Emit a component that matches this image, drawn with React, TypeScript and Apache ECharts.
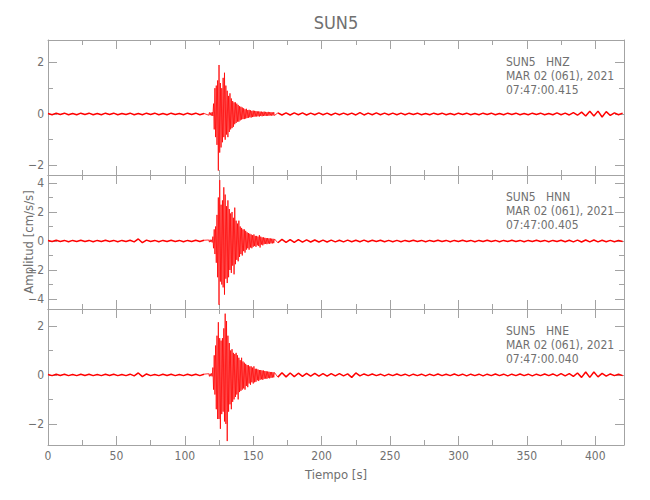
import React, { useEffect, useRef } from "react";
import * as echarts from "echarts";

// ---------- data ----------
const stationName = "SUN5";
const channels = ["HNZ", "HNN", "HNE"];
const dateLine = "MAR 02 (061), 2021";
const startTimes = ["07:47:00.415", "07:47:00.405", "07:47:00.040"];

const X_MIN = 0;
const X_MAX = 421;
const xMajorTicks = [0, 50, 100, 150, 200, 250, 300, 350, 400];
const xMinorTicks = [25, 75, 125, 175, 225, 275, 325, 375];

const yRanges = [
  [-2.37, 2.87],
  [-4.69, 4.55],
  [-2.86, 2.69],
];
const yMajorTicks = [
  [-2, 0, 2],
  [-4, -2, 0, 2, 4],
  [-2, 0, 2],
];
const yMinorTicks = [
  [-1, 1],
  [-3, -1, 1, 3],
  [-1, 1],
];

// sampling of the hand-read traces (seconds)
const PRE_START = 0;
const PRE_STEP = 3;
const EVENT_START = 117.5;
const EVENT_STEP = 0.5;
const CODA_START = 168;
const CODA_STEP = 3;

// HNZ
const hnzPre = [
  0.02, -0.03, 0.03, -0.02, 0.03, -0.03, 0.02, -0.03, 0.03, -0.02,
  0.03, -0.03, 0.02, -0.03, 0.03, -0.02, 0.03, -0.03, 0.02, -0.02,
  0.03, -0.03, 0.02, -0.03, 0.03, -0.02, 0.03, -0.03, 0.02, -0.03,
  0.03, -0.02, 0.02, -0.03, 0.03, -0.02, 0.03, -0.03, 0.02,
];
const hnzEvent = [
  -0.05, 0.06, -0.05, 0.05, -0.06, 0.07, -0.08,
  0.4, -0.6, 1.0, -0.9, 1.1, -1.2, 1.3,
  -2.2, 1.9, -1.5, 1.2, -1.3, 1.0, -1.1,
  1.4, -0.9, 1.6, -1.0, 1.1, -0.8, 0.9,
  -0.9, 0.7, -0.7, 0.8, -0.6, 0.6, -0.55,
  0.5, -0.5, 0.45, -0.4, 0.45, -0.35, 0.4,
  -0.3, 0.35, -0.3, 0.3, -0.25, 0.28, -0.22,
  0.25, -0.2, 0.22, -0.2, 0.18, -0.18, 0.2,
  -0.16, 0.15, -0.15, 0.16, -0.13, 0.14, -0.14,
  0.12, -0.12, 0.13, -0.11, 0.12, -0.1, 0.11,
  -0.1, 0.1, -0.09, 0.1, -0.1, 0.09, -0.08,
  0.09, -0.09, 0.08, -0.08, 0.09, -0.07, 0.08,
  -0.08, 0.07, -0.07, 0.08, -0.07, 0.07, -0.06,
  0.07, -0.07, 0.06, -0.06, 0.07, -0.06,
];
const hnzCoda = [
  0.04, -0.04, 0.04, -0.04, 0.04, -0.03, 0.04, -0.04, 0.03, -0.03,
  0.04, -0.03, 0.03, -0.04, 0.03, -0.03, 0.03, -0.03, 0.03, -0.04,
  0.05, -0.04, 0.03, -0.03, 0.04, -0.03, 0.03, -0.03, 0.03, -0.03,
  0.03, -0.03, 0.03, -0.02, 0.03, -0.03, 0.02, -0.03, 0.03, -0.02,
  0.03, -0.03, 0.02, -0.03, 0.03, -0.02, 0.03, -0.03, 0.02, -0.03,
  0.03, -0.02, 0.03, -0.03, 0.02, -0.03, 0.03, -0.02, 0.03, -0.03,
  0.02, -0.03, 0.03, -0.02, 0.03, -0.03, 0.02, -0.03, 0.04, -0.03,
  0.03, -0.04, 0.05, -0.05, 0.07, -0.08, 0.1, -0.08, 0.11, -0.12,
  0.09, -0.06, 0.04, -0.03, 0.03,
];

// HNN
const hnnPre = [
  0.04, -0.04, 0.05, -0.04, 0.04, -0.05, 0.04, -0.04, 0.05, -0.04,
  0.04, -0.05, 0.04, -0.04, 0.05, -0.04, 0.04, -0.05, 0.04, -0.04,
  0.05, -0.06, 0.14, -0.12, 0.06, -0.04, 0.04, -0.05, 0.04, -0.04,
  0.05, -0.04, 0.04, -0.05, 0.04, -0.04, 0.05, -0.04, 0.05,
];
const hnnEvent = [
  0.07, -0.08, 0.09, -0.07, 0.08, -0.1, 0.3,
  -0.5, 0.8, -0.9, 1.0, -1.5, 1.8, -2.5,
  3.0, -4.4, 4.2, -2.8, 2.5, -3.0, 2.8,
  -3.2, 3.7, -3.7, 3.2, -2.6, 2.4, -2.9,
  2.8, -2.5, 2.2, -2.0, 1.9, -2.2, 2.0,
  -1.7, 1.6, -2.3, 2.3, -1.6, 1.4, -1.3,
  1.2, -1.4, 1.4, -1.1, 1.0, -0.9, 0.9,
  -1.0, 0.8, -0.7, 0.8, -0.8, 0.7, -0.6,
  0.6, -0.5, 0.55, -0.6, 0.5, -0.45, 0.45,
  -0.5, 0.4, -0.4, 0.45, -0.35, 0.35, -0.4,
  0.35, -0.3, 0.3, -0.35, 0.4, -0.45, 0.3,
  -0.25, 0.25, -0.3, 0.25, -0.22, 0.22, -0.2,
  0.2, -0.22, 0.2, -0.18, 0.18, -0.2, 0.18,
  -0.16, 0.16, -0.17, 0.15, -0.15, 0.14,
];
const hnnCoda = [
  -0.12, 0.11, -0.1, 0.1, -0.09, 0.09, -0.08, 0.08, -0.07, 0.07,
  -0.07, 0.06, -0.07, 0.06, -0.06, 0.05, -0.06, 0.06, -0.05, 0.05,
  -0.05, 0.06, -0.05, 0.05, -0.04, 0.05, -0.05, 0.04, -0.05, 0.04,
  -0.05, 0.04, -0.04, 0.05, -0.04, 0.04, -0.05, 0.04, -0.04, 0.05,
  -0.04, 0.04, -0.05, 0.04, -0.04, 0.05, -0.04, 0.04, -0.05, 0.04,
  -0.04, 0.05, -0.04, 0.04, -0.05, 0.04, -0.04, 0.05, -0.04, 0.04,
  -0.05, 0.04, -0.04, 0.05, -0.04, 0.04, -0.05, 0.04, -0.04, 0.05,
  -0.05, 0.05, -0.06, 0.06, -0.07, 0.07, -0.06, 0.07, -0.06, 0.05,
  -0.05, 0.04, -0.05, 0.04, -0.04,
];

// HNE
const hnePre = [
  0.02, -0.03, 0.03, -0.02, 0.03, -0.03, 0.02, -0.03, 0.03, -0.02,
  0.03, -0.03, 0.02, -0.03, 0.03, -0.02, 0.03, -0.03, 0.02, -0.03,
  0.03, -0.04, 0.08, -0.07, 0.04, -0.03, 0.02, -0.03, 0.03, -0.02,
  0.03, -0.03, 0.02, -0.03, 0.03, -0.02, 0.03, -0.03, 0.03,
];
const hneEvent = [
  0.05, -0.06, 0.05, -0.05, 0.06, -0.06, 0.3,
  -0.6, 0.8, -0.8, 1.2, -1.4, 1.6, -1.8,
  2.15, -1.8, 1.5, -2.2, 1.4, -1.6, 1.5,
  -1.5, 1.9, -1.9, 2.5, -2.0, 2.2, -2.7,
  1.6, -1.5, 1.3, -1.2, 1.0, -1.4, 1.05,
  -1.1, 0.9, -1.0, 0.85, -0.9, 0.9, -0.8,
  0.8, -1.0, 0.7, -0.7, 0.6, -0.65, 0.7,
  -0.6, 0.55, -0.55, 0.5, -0.6, 0.45, -0.45,
  0.4, -0.5, 0.4, -0.35, 0.35, -0.4, 0.35,
  -0.3, 0.3, -0.35, 0.35, -0.3, 0.25, -0.28,
  0.25, -0.22, 0.22, -0.25, 0.2, -0.2, 0.2,
  -0.18, 0.18, -0.2, 0.18, -0.16, 0.16, -0.15,
  0.15, -0.16, 0.14, -0.13, 0.13, -0.14, 0.12,
  -0.12, 0.12, -0.11, 0.11, -0.1, 0.1,
];
const hneCoda = [
  -0.09, 0.09, -0.08, 0.08, -0.07, 0.07, -0.06, 0.06, -0.05, 0.06,
  -0.05, 0.05, -0.05, 0.05, -0.04, 0.05, -0.04, 0.04, -0.1, 0.08,
  -0.04, 0.04, -0.03, 0.04, -0.03, 0.03, -0.04, 0.03, -0.03, 0.04,
  -0.03, 0.03, -0.04, 0.03, -0.03, 0.03, -0.04, 0.03, -0.03, 0.04,
  -0.03, 0.03, -0.03, 0.04, -0.03, 0.03, -0.04, 0.03, -0.03, 0.03,
  -0.04, 0.03, -0.03, 0.04, -0.03, 0.03, -0.04, 0.03, -0.03, 0.04,
  -0.03, 0.03, -0.04, 0.03, -0.03, 0.04, -0.03, 0.04, -0.04, 0.05,
  -0.04, 0.05, -0.06, 0.08, -0.1, 0.12, -0.1, 0.12, -0.08, 0.06,
  -0.05, 0.04, -0.03, 0.03, -0.03,
];

const traces = [
  [hnzPre, hnzEvent, hnzCoda],
  [hnnPre, hnnEvent, hnnCoda],
  [hnePre, hneEvent, hneCoda],
];

// ---------- layout / style ----------
const PANEL_LEFT = 48;
const PANEL_WIDTH = 576;
const PANEL_TOPS = [40, 175, 309];
const PANEL_HEIGHTS = [135, 134, 136];
const AXIS_COLOR = "#a3a3a3";
const TEXT_COLOR = "#707070";
const TRACE_COLOR = "#ff0000";
const FONT = "'DejaVu Sans Condensed', 'Liberation Sans Narrow', sans-serif";

function segment(start: number, step: number, values: number[]) {
  return values.map((v, i) => [start + step * i, v]);
}

const fmtMinus = (v: number) => String(v).replace("-", "\u2212");

function buildOption() {
  const grid: any[] = [];
  const xAxis: any[] = [];
  const yAxis: any[] = [];
  const series: any[] = [];
  const graphic: any[] = [];

  for (let g = 0; g < 3; g++) {
    grid.push({
      left: PANEL_LEFT,
      top: PANEL_TOPS[g],
      width: PANEL_WIDTH,
      height: PANEL_HEIGHTS[g],
      containLabel: false,
    });
    const isLast = g === 2;
    const xBase = {
      type: "value",
      gridIndex: g,
      min: X_MIN,
      max: X_MAX,
      splitLine: { show: false },
    };
    const lineOn = { show: true, onZero: false, lineStyle: { color: AXIS_COLOR, width: 1 } };
    const lineOff = { show: false, onZero: false };
    xAxis.push({
      ...xBase,
      position: "bottom",
      axisLine: lineOn,
      axisTick: { show: true, inside: true, length: 9, customValues: xMajorTicks, lineStyle: { color: AXIS_COLOR } },
      axisLabel: isLast
        ? { show: true, customValues: xMajorTicks, color: TEXT_COLOR, fontSize: 12, fontFamily: FONT, margin: 5 }
        : { show: false },
      name: isLast ? "Tiempo [s]" : "",
      nameLocation: "middle",
      nameGap: 23,
      nameTextStyle: { color: TEXT_COLOR, fontSize: 13, fontFamily: FONT },
    });
    xAxis.push({
      ...xBase,
      position: "bottom",
      axisLine: lineOff,
      axisTick: { show: true, inside: true, length: 5, customValues: xMinorTicks, lineStyle: { color: AXIS_COLOR } },
      axisLabel: { show: false },
    });
    xAxis.push({
      ...xBase,
      position: "top",
      axisLine: lineOn,
      axisTick: { show: true, inside: true, length: 9, customValues: xMajorTicks, lineStyle: { color: AXIS_COLOR } },
      axisLabel: { show: false },
    });
    xAxis.push({
      ...xBase,
      position: "top",
      axisLine: lineOff,
      axisTick: { show: true, inside: true, length: 5, customValues: xMinorTicks, lineStyle: { color: AXIS_COLOR } },
      axisLabel: { show: false },
    });

    const yBase = {
      type: "value",
      gridIndex: g,
      min: yRanges[g][0],
      max: yRanges[g][1],
      splitLine: { show: false },
    };
    yAxis.push({
      ...yBase,
      position: "left",
      axisLine: lineOn,
      axisTick: { show: true, inside: true, length: 9, customValues: yMajorTicks[g], lineStyle: { color: AXIS_COLOR } },
      axisLabel: {
        show: true,
        customValues: yMajorTicks[g],
        color: TEXT_COLOR,
        fontSize: 12,
        fontFamily: FONT,
        margin: 4,
        formatter: fmtMinus,
      },
    });
    yAxis.push({
      ...yBase,
      position: "left",
      axisLine: lineOff,
      axisTick: { show: true, inside: true, length: 5, customValues: yMinorTicks[g], lineStyle: { color: AXIS_COLOR } },
      axisLabel: { show: false },
    });
    yAxis.push({
      ...yBase,
      position: "right",
      axisLine: lineOn,
      axisTick: { show: true, inside: true, length: 9, customValues: yMajorTicks[g], lineStyle: { color: AXIS_COLOR } },
      axisLabel: { show: false },
    });
    yAxis.push({
      ...yBase,
      position: "right",
      axisLine: lineOff,
      axisTick: { show: true, inside: true, length: 5, customValues: yMinorTicks[g], lineStyle: { color: AXIS_COLOR } },
      axisLabel: { show: false },
    });

    const [pre, ev, coda] = traces[g];
    const prePts = segment(PRE_START, PRE_STEP, pre);
    const evPts = segment(EVENT_START, EVENT_STEP, ev);
    const codaPts = segment(CODA_START, CODA_STEP, coda);
    const common = {
      type: "line",
      name: channels[g],
      xAxisIndex: g * 4,
      yAxisIndex: g * 4,
      showSymbol: false,
      symbol: "none",
      silent: true,
      clip: true,
    };
    series.push({ ...common, data: prePts, lineStyle: { color: TRACE_COLOR, width: 1.5 } });
    series.push({ ...common, data: codaPts, lineStyle: { color: TRACE_COLOR, width: 1.5 } });
    series.push({
      ...common,
      data: [prePts[prePts.length - 1], ...evPts, codaPts[0]],
      lineStyle: { color: TRACE_COLOR, width: 0.8 },
    });

    const lines = [`${stationName}   ${channels[g]}`, dateLine, startTimes[g]];
    lines.forEach((txt, k) => {
      graphic.push({
        type: "text",
        x: 506,
        y: PANEL_TOPS[g] + 22 + k * 14,
        style: {
          text: txt,
          fill: TEXT_COLOR,
          fontSize: 12,
          fontFamily: FONT,
          align: "left",
          verticalAlign: "middle",
        },
      });
    });
  }

  graphic.push({
    type: "text",
    x: 336,
    y: 22,
    style: {
      text: stationName,
      fill: TEXT_COLOR,
      fontSize: 18,
      fontFamily: FONT,
      align: "center",
      verticalAlign: "middle",
    },
  });
  graphic.push({
    type: "text",
    x: 28,
    y: 242,
    rotation: Math.PI / 2,
    style: {
      text: "Amplitud [cm/s/s]",
      fill: TEXT_COLOR,
      fontSize: 13,
      fontFamily: FONT,
      align: "center",
      verticalAlign: "middle",
    },
  });

  return {
    animation: false,
    backgroundColor: "#ffffff",
    grid,
    xAxis,
    yAxis,
    series,
    graphic,
  };
}

export default function App() {
  const ref = useRef<HTMLDivElement>(null);
  useEffect(() => {
    if (!ref.current) return;
    const chart = echarts.init(ref.current, null, { renderer: "svg" });
    chart.setOption(buildOption() as any);
    return () => {
      chart.dispose();
    };
  }, []);
  return (
    <div
      ref={ref}
      style={{ position: "fixed", left: 0, top: 0, width: 650, height: 500, background: "#ffffff" }}
    />
  );
}
